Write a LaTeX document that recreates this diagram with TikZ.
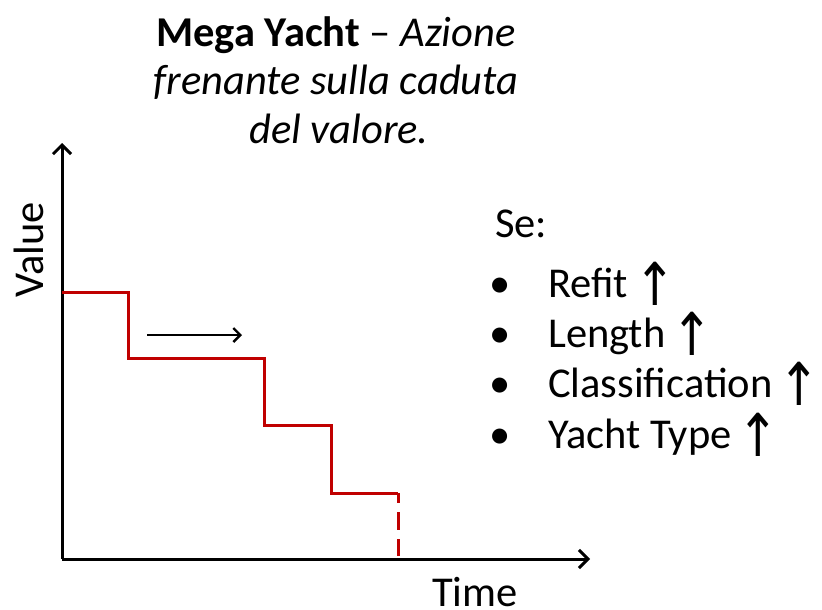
\documentclass[tikz,border=0pt]{standalone}
\usepackage{fontspec}
\setmainfont{Carlito}
\newfontfamily\symfont{DejaVu Sans}
\usetikzlibrary{arrows.meta}
\definecolor{stepred}{RGB}{192,0,0}
\tikzset{
  axis/.style={line width=3pt, -{Straight Barb[length=9pt,width=18pt,line width=3pt]}},
  stepline/.style={stepred, line width=3pt},
  txt/.style={inner sep=0pt, font=\fontsize{42.5}{50}\selectfont},
}
\newcommand{\upar}{\raisebox{-8pt}{\scalebox{1.55}[1.85]{\symfont\fontsize{32}{40}\selectfont\char"2191}}}
\begin{document}
\begin{tikzpicture}[x=1pt,y=-1pt]
\useasboundingbox (0,0) rectangle (822,610);
% axes
\coordinate (O) at (62,559);
\coordinate (ytop) at (62,143);
\coordinate (xend) at (590,559);
\draw[axis] (O) -- (ytop);
\draw[axis] (O) -- (xend);
% step line
\coordinate (s0) at (62,292);
\coordinate (s1) at (128,292);
\coordinate (s2) at (128,358);
\coordinate (s3) at (264,358);
\coordinate (s4) at (264,425);
\coordinate (s5) at (331,425);
\coordinate (s6) at (331,493);
\coordinate (s7) at (398,493);
\coordinate (s8) at (398,556);
\draw[stepline, line join=miter] (s0) -- (s1) -- (s2) -- (s3) -- (s4) -- (s5) -- (s6) -- (s7);
\draw[stepline, dash pattern=on 18pt off 9pt, dash phase=8pt] (s7) -- (s8);
% small arrow
\coordinate (a0) at (147,335);
\coordinate (a1) at (242,335);
\draw[line width=2.4pt, -{Straight Barb[length=7pt,width=14pt,line width=2.4pt]}] (a0) -- (a1);
% axis labels
\node[txt, rotate=90, anchor=base] (value) at (43,250) {Value};
\node[txt, anchor=base west] (time) at (432,606) {Time};
% title
\node[txt, anchor=base] (t1) at (336,47) {\textbf{Mega Yacht} – \textit{Azione}};
\node[txt, anchor=base] (t2) at (336,95) {\textit{frenante sulla caduta}};
\node[txt, anchor=base] (t3) at (339,143) {\textit{del valore.}};
% list
\node[txt, anchor=base west] (se) at (495,237) {Se:};
\foreach \n/\y/\t in {r/297/Refit, l/347/Length, c/397/Classification, y/448/Yacht Type}{
  \node[txt, anchor=base] (b\n) at (500,\y) {•};
  \node[txt, anchor=base west] (i\n) at (548,\y) {\t\hspace{6pt}\upar};
}
\end{tikzpicture}
\end{document}
